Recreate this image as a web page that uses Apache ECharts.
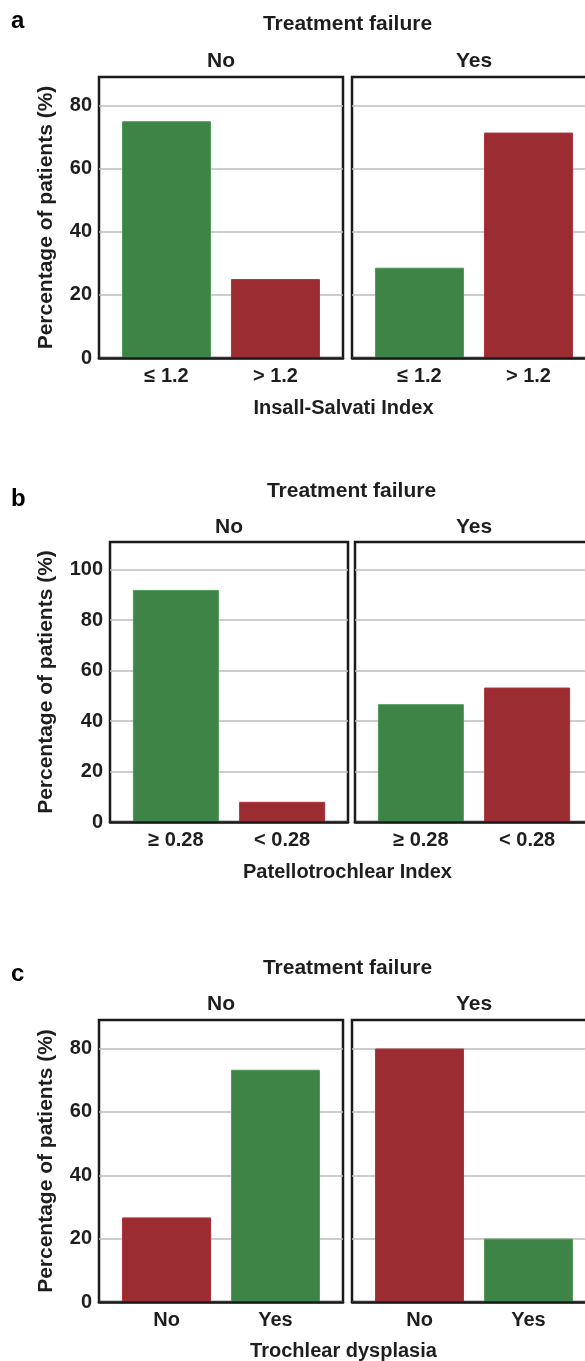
<!DOCTYPE html>
<html>
<head>
<meta charset="utf-8">
<script src="https://cdn.jsdelivr.net/npm/echarts@6/dist/echarts.min.js"></script>
<style>
html,body{margin:0;padding:0;background:#fff;overflow:hidden;}
#chart{width:600px;height:1361px;}
</style>
</head>
<body>
<div id="chart"></div>
<script>
// ---- Data ----
const facetLabels = ['No', 'Yes'];
const facetTitle = 'Treatment failure';

const catsA = ['≤ 1.2', '> 1.2'];
const valsA_No = [75.0, 25.0];
const valsA_Yes = [28.6, 71.4];
const xTitleA = 'Insall-Salvati Index';
const yTicksA = [0, 20, 40, 60, 80];

const catsB = ['≥ 0.28', '< 0.28'];
const valsB_No = [92.0, 8.0];
const valsB_Yes = [46.7, 53.3];
const xTitleB = 'Patellotrochlear Index';
const yTicksB = [0, 20, 40, 60, 80, 100];

const catsC = ['No', 'Yes'];
const valsC_No = [26.7, 73.3];
const valsC_Yes = [80.0, 20.0];
const xTitleC = 'Trochlear dysplasia';
const yTicksC = [0, 20, 40, 60, 80];

const yTitle = 'Percentage of patients (%)';
const panelLetters = ['a', 'b', 'c'];

// ---- Styles ----
const GREEN = '#3e8446', RED = '#9b2c31';
const GREEN_EDGE = '#4f9a57', RED_EDGE = '#b0323a';
const colorsA = [GREEN, RED];
const colorsB = [GREEN, RED];
const colorsC = [RED, GREEN];
const FONT = '"Liberation Sans", Arial, sans-serif';
const TXT = '#1e1e1e';

const panels = [
  {cats: catsA, vals: [valsA_No, valsA_Yes], colors: colorsA, yMax: 89, yTicks: yTicksA, xTitle: xTitleA,
   top: 77, height: 281, lefts: [99, 352], width: 244, barW: 89, letterY: 21, titleY: 24, facetY: 61, xTitleY: 408},
  {cats: catsB, vals: [valsB_No, valsB_Yes], colors: colorsB, yMax: 111, yTicks: yTicksB, xTitle: xTitleB,
   top: 542, height: 280, lefts: [110, 355], width: 238, barW: 86, letterY: 499, titleY: 491, facetY: 527, xTitleY: 872},
  {cats: catsC, vals: [valsC_No, valsC_Yes], colors: colorsC, yMax: 89, yTicks: yTicksC, xTitle: xTitleC,
   top: 1020, height: 282, lefts: [99, 352], width: 244, barW: 89, letterY: 974, titleY: 968, facetY: 1004, xTitleY: 1351}
];

const grids = [], xAxes = [], yAxes = [], series = [], graphics = [];
panels.forEach((p, pi) => {
  const edgeColors = p.colors.map(c => c === GREEN ? GREEN_EDGE : RED_EDGE);
  p.lefts.forEach((left, fi) => {
    const gi = grids.length;
    grids.push({left: left, top: p.top, width: p.width, height: p.height, show: true,
      borderColor: '#1a1a1a', borderWidth: 2.5, backgroundColor: 'transparent'});
    const cats = p.cats;
    xAxes.push({type: 'value', gridIndex: gi, min: -0.62, max: 1.62, z: 5,
      axisLine: {show: true, onZero: false, lineStyle: {color: '#1a1a1a', width: 2.5}},
      axisTick: {show: false, customValues: [0, 1]},
      splitLine: {show: false},
      axisLabel: {show: true, customValues: [0, 1], formatter: v => cats[Math.round(v)],
        fontFamily: FONT, fontWeight: 'bold', fontSize: 20, color: TXT, margin: 8}
    });
    yAxes.push({type: 'value', gridIndex: gi, min: 0, max: p.yMax, interval: 20,
      axisLine: {show: false}, axisTick: {show: false, customValues: p.yTicks},
      splitLine: {show: true, lineStyle: {color: '#bdbdbd', width: 1.5}},
      axisLabel: {show: fi === 0, customValues: p.yTicks, fontFamily: FONT, fontWeight: 'bold',
        fontSize: 20, color: TXT, margin: 7},
      name: fi === 0 ? yTitle : '', nameLocation: 'middle', nameRotate: 90, nameGap: left - 57,
      nameTextStyle: {fontFamily: FONT, fontWeight: 'bold', fontSize: 21, color: TXT}
    });
    series.push({type: 'bar', xAxisIndex: gi, yAxisIndex: gi, barWidth: p.barW,
      data: p.vals[fi].map((v, i) => ({value: [i, v],
        itemStyle: {color: p.colors[i], borderColor: edgeColors[i], borderWidth: 1}})),
      animation: false
    });
    graphics.push({type: 'text', x: left + p.width / 2, y: p.facetY,
      style: {text: facetLabels[fi], font: 'bold 21px ' + FONT, fill: TXT, textAlign: 'center', textVerticalAlign: 'middle'}});
  });
  const center = (p.lefts[0] + p.lefts[1] + p.width) / 2;
  graphics.push({type: 'text', x: 11, y: p.letterY,
    style: {text: panelLetters[pi], font: 'bold 24px ' + FONT, fill: '#000', textAlign: 'left', textVerticalAlign: 'middle'}});
  graphics.push({type: 'text', x: center, y: p.titleY,
    style: {text: facetTitle, font: 'bold 21px ' + FONT, fill: TXT, textAlign: 'center', textVerticalAlign: 'middle'}});
  graphics.push({type: 'text', x: center - 4, y: p.xTitleY,
    style: {text: p.xTitle, font: 'bold 20px ' + FONT, fill: TXT, textAlign: 'center', textVerticalAlign: 'middle'}});
});

const chart = echarts.init(document.getElementById('chart'), null, {renderer: 'canvas'});
chart.setOption({
  animation: false,
  backgroundColor: '#ffffff',
  grid: grids, xAxis: xAxes, yAxis: yAxes, series: series,
  graphic: graphics
});
</script>
</body>
</html>
